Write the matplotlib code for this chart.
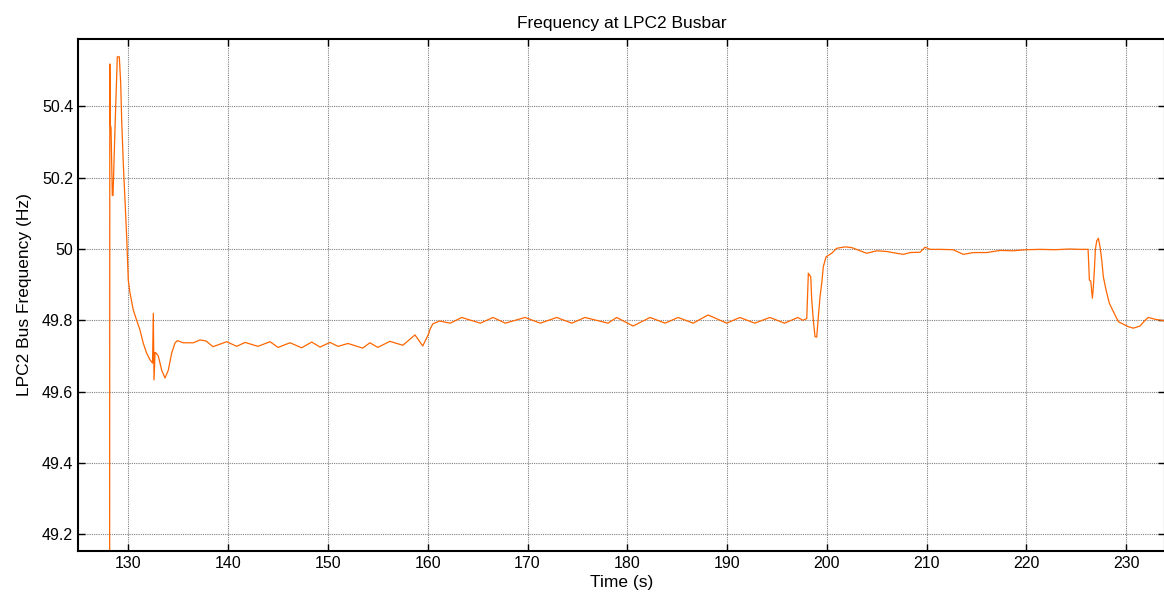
import matplotlib.pyplot as plt
from matplotlib.ticker import FuncFormatter

plt.rcParams['font.family'] = ['Liberation Sans', 'DejaVu Sans']

# time (s) and bus frequency (Hz)
t = [128.11, 128.12, 128.13, 128.17, 128.25, 128.38, 128.45, 128.65, 128.88, 129.08,
     129.22, 129.32, 129.48, 129.65, 129.82, 129.92, 129.98, 130.15, 130.48, 130.82,
     131.15, 131.48, 131.82, 132.16, 132.41, 132.49, 132.56, 132.66, 132.76, 132.99,
     133.33, 133.66, 133.99, 134.33, 134.66, 134.89, 135.49, 136.50, 137.17, 137.77,
     138.47, 139.84, 140.85, 141.68, 142.98, 144.19, 144.99, 146.19, 147.36, 148.37,
     149.20, 150.20, 151.00, 152.00, 153.48, 154.20, 154.99, 156.20, 157.50, 158.72,
     159.50, 160.12, 160.20, 160.50, 161.19, 162.26, 163.40, 165.27, 166.54, 167.78,
     169.75, 171.28, 172.93, 174.43, 175.76, 178.07, 178.94, 180.58, 182.28, 183.79,
     185.09, 186.60, 188.10, 189.97, 191.28, 192.78, 194.29, 195.76, 197.10, 197.60,
     197.99, 198.15, 198.39, 198.49, 198.65, 198.82, 198.99, 199.15, 199.32, 199.49,
     199.65, 199.92, 200.49, 200.99, 201.82, 202.49, 203.16, 203.99, 205.00, 206.00,
     207.01, 207.68, 208.35, 209.35, 209.85, 210.35, 211.35, 212.66, 213.69, 214.69,
     216.03, 217.37, 218.67, 220.04, 221.37, 222.87, 224.38, 225.39, 226.19, 226.32,
     226.46, 226.62, 226.72, 226.82, 226.92, 227.06, 227.22, 227.39, 227.56, 227.72,
     227.99, 228.32, 228.73, 229.23, 229.73, 230.23, 230.73, 231.40, 231.90, 232.23,
     232.90, 233.73, 234.50]
freq = [48.90, 50.519, 50.519, 50.35, 50.34, 50.15, 50.15, 50.34, 50.539, 50.539,
        50.465, 50.36, 50.24, 50.137, 50.034, 49.96, 49.913, 49.877, 49.829, 49.80,
        49.773, 49.736, 49.708, 49.689, 49.68, 49.82, 49.633, 49.71, 49.708, 49.70,
        49.66, 49.638, 49.66, 49.708, 49.736, 49.743, 49.737, 49.737, 49.745, 49.742,
        49.726, 49.740, 49.727, 49.738, 49.727, 49.740, 49.724, 49.737, 49.723, 49.739,
        49.725, 49.738, 49.727, 49.735, 49.722, 49.737, 49.724, 49.741, 49.730, 49.759,
        49.728, 49.764, 49.773, 49.790, 49.798, 49.792, 49.808, 49.792, 49.808, 49.792,
        49.808, 49.792, 49.808, 49.792, 49.808, 49.792, 49.808, 49.784, 49.808, 49.792,
        49.808, 49.792, 49.815, 49.792, 49.808, 49.792, 49.808, 49.792, 49.808, 49.800,
        49.805, 49.932, 49.922, 49.857, 49.800, 49.754, 49.753, 49.810, 49.866, 49.904,
        49.950, 49.978, 49.988, 50.002, 50.006, 50.004, 49.997, 49.988, 49.995, 49.993,
        49.988, 49.985, 49.990, 49.991, 50.005, 49.999, 49.999, 49.998, 49.985, 49.990,
        49.990, 49.996, 49.995, 49.998, 49.999, 49.998, 50.000, 49.999, 49.999, 49.913,
        49.910, 49.862, 49.894, 49.941, 49.999, 50.023, 50.030, 50.006, 49.969, 49.922,
        49.885, 49.848, 49.824, 49.796, 49.789, 49.782, 49.778, 49.784, 49.800, 49.808,
        49.803, 49.799, 49.799]

xticks = [130, 140, 150, 160, 170, 180, 190, 200, 210, 220, 230]
yticks = [49.2, 49.4, 49.6, 49.8, 50.0, 50.2, 50.4]

fig = plt.figure(figsize=(11.64, 6.01), dpi=100)
ax = fig.add_axes([78 / 1164, 50 / 601, 1087 / 1164, 512 / 601])

ax.plot(t, freq, color='#ff6600', linewidth=0.9)

ax.set_xlim(124.94, 233.9)
ax.set_ylim(49.153, 50.589)
ax.set_xticks(xticks)
ax.set_yticks(yticks)
ax.yaxis.set_major_formatter(FuncFormatter(lambda v, p: '%g' % round(v, 2)))

ax.grid(True, color='#808080', linestyle=(0, (1, 1)), linewidth=0.8)
ax.tick_params(direction='in', length=5, width=1, top=True, right=True,
               labelsize=11.5, colors='black')
for s in ax.spines.values():
    s.set_linewidth(1.5)

ax.set_title('Frequency at LPC2 Busbar', fontsize=12.5, pad=8)
ax.set_xlabel('Time (s)', fontsize=12.5, labelpad=3)
ax.set_ylabel('LPC2 Bus Frequency (Hz)', fontsize=12.5, labelpad=7)

fig.savefig('out.png', dpi=100)
